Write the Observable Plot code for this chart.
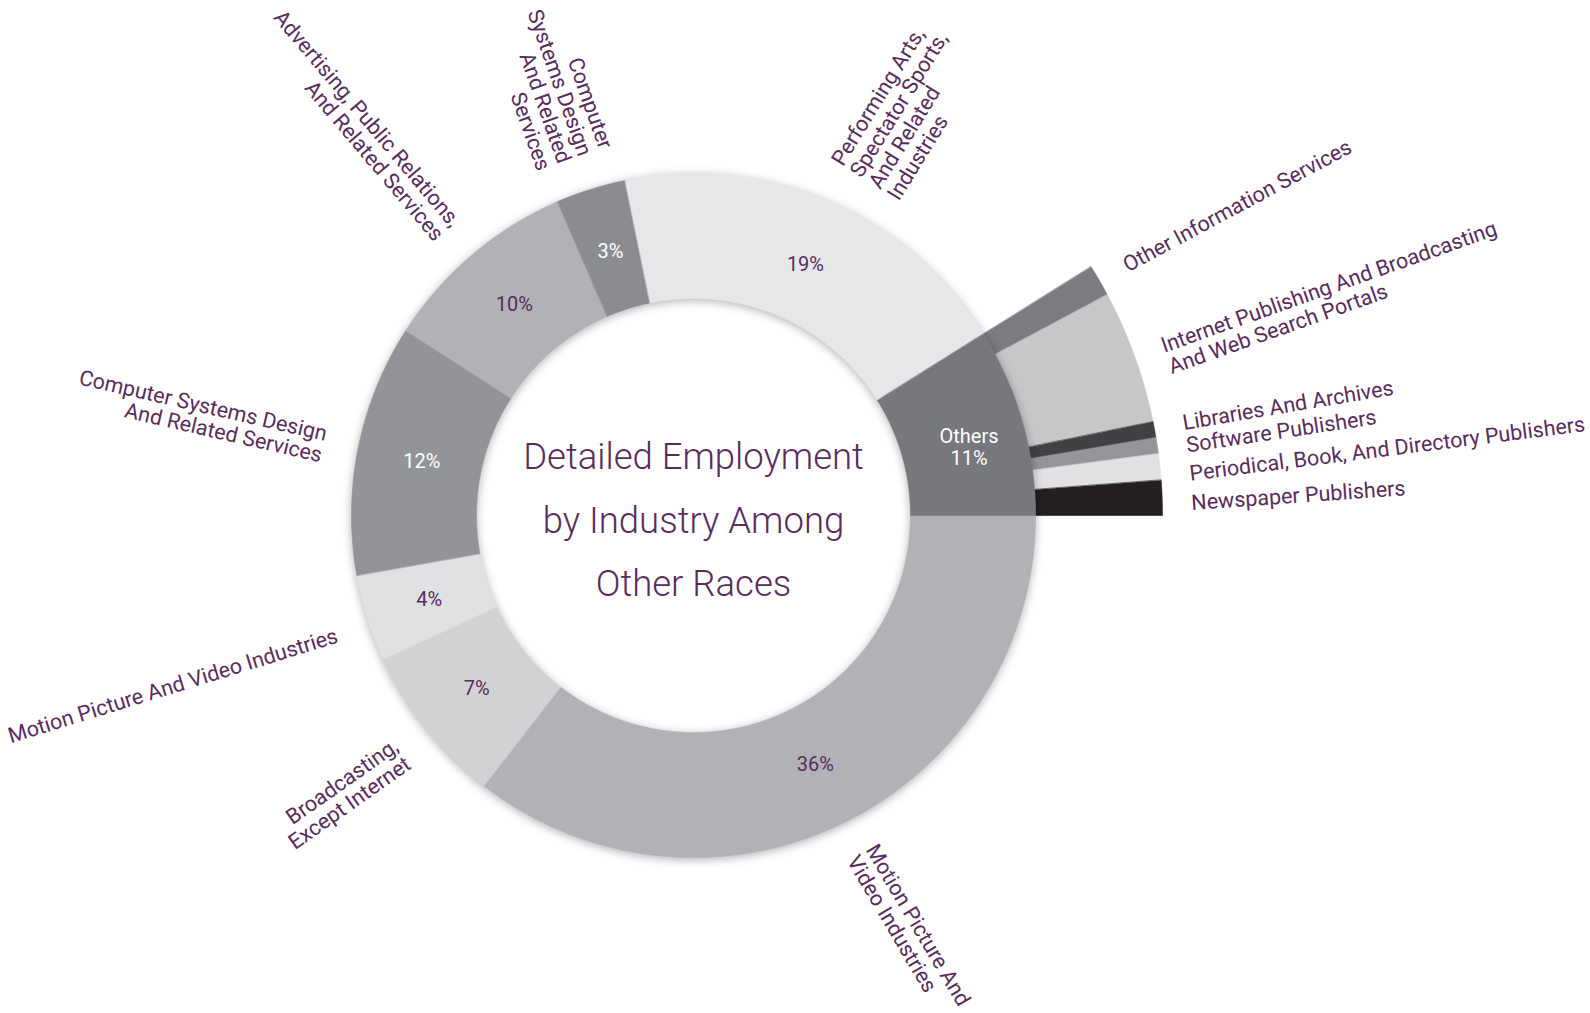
<!DOCTYPE html>
<html>
<head>
<meta charset="utf-8">
<script src="https://cdn.jsdelivr.net/npm/d3@7"></script>
<script src="https://cdn.jsdelivr.net/npm/@observablehq/plot@0.6"></script>
<style>
  html, body { margin: 0; padding: 0; background: #ffffff; }
  #chart svg { display: block; }
</style>
</head>
<body>
<div id="chart"></div>
<script>
// ---------------- DATA ----------------
const industries = [
  "Motion Picture And Video Industries",
  "Broadcasting, Except Internet",
  "Motion Picture And Video Industries",
  "Computer Systems Design And Related Services",
  "Advertising, Public Relations, And Related Services",
  "Computer Systems Design And Related Services",
  "Performing Arts, Spectator Sports, And Related Industries",
  "Others"
];
// share of the whole ring as drawn (percent)
const shares = [35.5, 7.6, 4.1, 11.9, 9.4, 3.3, 19.3, 8.9];
// printed percentage labels
const shareLabels = ["36%", "7%", "4%", "12%", "10%", "3%", "19%", "Others\n11%"];
// outer labels (as broken into lines in the chart)
const outerLabels = [
  "Motion Picture And\nVideo Industries",
  "Broadcasting,\nExcept Internet",
  "Motion Picture And Video Industries",
  "Computer Systems Design\nAnd Related Services",
  "Advertising, Public Relations,\nAnd Related Services",
  "Computer\nSystems Design\nAnd Related\nServices",
  "Performing Arts,\nSpectator Sports,\nAnd Related\nIndustries",
  ""
];

// breakdown of "Others" (percent of whole)
const otherIndustries = [
  "Other Information Services",
  "Internet Publishing And Broadcasting\nAnd Web Search Portals",
  "Libraries And Archives",
  "Software Publishers",
  "Periodical, Book, And Directory Publishers",
  "Newspaper Publishers"
];
const otherShares = [1.1, 4.6, 0.55, 0.55, 0.9, 1.2];

const chartTitle = "Detailed Employment\nby Industry Among\nOther Races";

// ---------------- STYLES / LAYOUT ----------------
const sliceColors = ["#b1b2b5", "#d1d2d4", "#e0e1e3", "#929497", "#b1b2b5", "#8b8c8f", "#e6e7e8", "#77787b"];
const pctColors   = ["#582c5c", "#582c5c", "#582c5c", "#ffffff", "#582c5c", "#ffffff", "#582c5c", "#ffffff"];
const subColors   = ["#7b7c7f", "#c6c7c9", "#404143", "#939598", "#e0e1e3", "#231f20"];
const labelColor  = "#582c5c";

const W = 1590, H = 1013, CX = 693, CY = 515;
const R_IN = 217, R_OUT = 342, R_SUB = 469;
const R_PCT = 277, R_LABEL = 376, R_SUBLABEL = 498;

// label fine-tuning (degrees)
const labelAnchor = ["start", "end", "end", "end", "end", "end", "start", "none"];
const labelPosNudge = [-0.5, -0.65, -1.15, -0.5, -0.5, -0.95, 3.9, 0];
const labelRotNudge = [-4.5, 3.35, 0.35, 1.6, 0.1, -2, 8.5, 0];
const pctPosNudge   = [0, 0, 0, 0, 0, 0, 0.8, 2];
const pctRadNudge   = [0, 0, 0, 0, 0, 0, -2, 7];
const subPosNudge = [0, 1.2, -0.2, 0.45, 1.1, 0.7];
const subRotNudge = [1.9, 0.3, 1.0, 0, -1.2, -1.8];

// ---------------- GEOMETRY (derived from data) ----------------
const DEG = Math.PI / 180;
const pt = (a, r) => ({x: r * Math.cos(a * DEG), y: -r * Math.sin(a * DEG)});

let acc = 0;
const mainSlices = shares.map((s, i) => {
  const a0 = acc * 3.6; acc += s; const a1 = acc * 3.6;
  return {i, a0, a1, mid: (a0 + a1) / 2};
});
let accSub = mainSlices[7].a0;
const subSlices = otherShares.map((s, i) => {
  const a0 = accSub; accSub += s * 3.6; const a1 = accSub;
  return {i, a0, a1, mid: (a0 + a1) / 2};
});

function wedge(key, a0, a1, r0, r1, color) {
  const n = Math.max(2, Math.ceil((a1 - a0) / 0.5));
  const pts = [];
  for (let k = 0; k <= n; k++) pts.push({key, color, ...pt(a0 + (a1 - a0) * k / n, r1)});
  for (let k = n; k >= 0; k--) pts.push({key, color, ...pt(a0 + (a1 - a0) * k / n, r0)});
  return pts;
}

const mainRows = mainSlices.flatMap(s => wedge("m" + s.i, s.a0, s.a1, R_IN, R_OUT, sliceColors[s.i]));
const subRows = subSlices.flatMap(s => wedge("s" + s.i, s.a0, s.a1, R_OUT, R_SUB, subColors[s.i]));

const pctRows = mainSlices.map(s => ({
  ...pt(s.mid + pctPosNudge[s.i], R_PCT + pctRadNudge[s.i]),
  text: shareLabels[s.i], color: pctColors[s.i]
}));

const outerRows = mainSlices.filter(s => outerLabels[s.i]).map(s => {
  const start = labelAnchor[s.i] === "start";
  let rot = s.mid + labelRotNudge[s.i] + (start ? 0 : -180);
  rot = ((rot + 540) % 360) - 180;
  return {...pt(s.mid + labelPosNudge[s.i], R_LABEL), text: outerLabels[s.i], rot, anchor: labelAnchor[s.i]};
});

const subLabelRows = subSlices.map(s => {
  let rot = s.mid + subRotNudge[s.i];
  rot = ((rot + 540) % 360) - 180;
  return {...pt(s.mid + subPosNudge[s.i], R_SUBLABEL), text: otherIndustries[s.i], rot};
});

// ---------------- PLOT ----------------
const font = "Roboto, 'Noto Sans', sans-serif";
const svg = Plot.plot({
  width: W, height: H,
  marginTop: 0, marginRight: 0, marginBottom: 0, marginLeft: 0,
  x: {domain: [-CX, W - CX], axis: null},
  y: {domain: [-(H - CY), CY], axis: null},
  color: {type: "identity"},
  style: {fontFamily: font, background: "#ffffff", overflow: "visible"},
  marks: [
    Plot.line(subRows, {x: "x", y: "y", z: "key", fill: "color", stroke: "color", strokeWidth: 0.6, curve: "linear-closed"}),
    Plot.line(mainRows, {x: "x", y: "y", z: "key", fill: "color", stroke: "color", strokeWidth: 0.6, curve: "linear-closed"}),
    Plot.text(pctRows, {x: "x", y: "y", text: "text", fill: "color", fontSize: 20, lineHeight: 1.1, fontFamily: font}),
    Plot.text(outerRows.filter(d => d.anchor === "start"), {x: "x", y: "y", text: "text", rotate: "rot", textAnchor: "start", lineAnchor: "middle", fontSize: 21.5, lineHeight: 1.02, fill: labelColor, fontFamily: font}),
    Plot.text(outerRows.filter(d => d.anchor === "end"), {x: "x", y: "y", text: "text", rotate: "rot", textAnchor: "end", lineAnchor: "middle", fontSize: 21.5, lineHeight: 1.02, fill: labelColor, fontFamily: font}),
    Plot.text(subLabelRows, {x: "x", y: "y", text: "text", rotate: "rot", textAnchor: "start", lineAnchor: "middle", fontSize: 21.5, lineHeight: 1.05, fill: labelColor, fontFamily: font}),
    Plot.text([chartTitle], {x: () => 0, y: () => 3, text: d => d, fontSize: 36.5, fontWeight: 300, lineHeight: 1.74, fill: labelColor, fontFamily: font})
  ]
});

const rings = svg.querySelectorAll('g[aria-label="line"]');
if (rings.length > 1) rings[1].style.filter = "drop-shadow(0px 2px 5px rgba(0,0,0,0.30))";

document.getElementById("chart").appendChild(svg);
</script>
</body>
</html>
